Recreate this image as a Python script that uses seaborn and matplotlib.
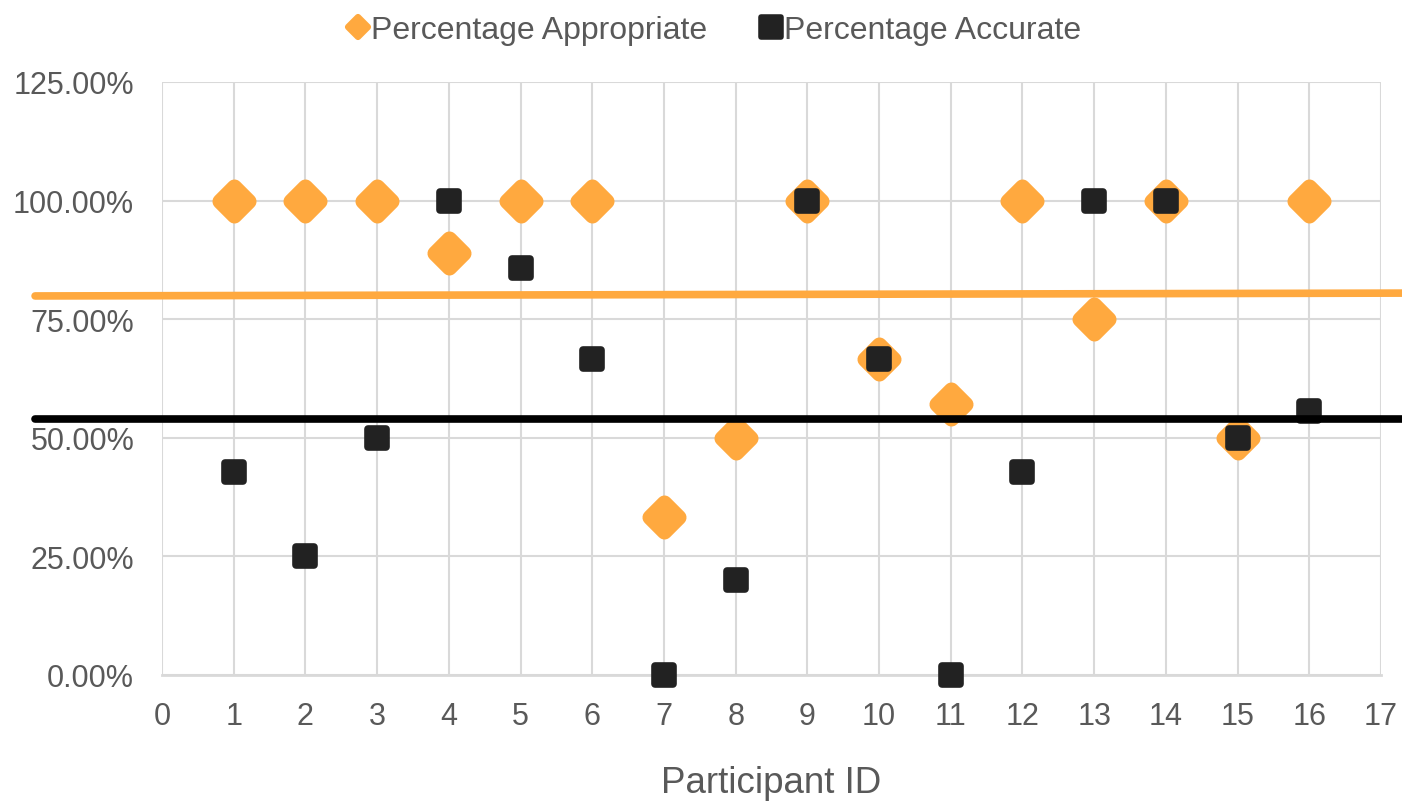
import pandas as pd
import matplotlib.pyplot as plt
import seaborn as sns
from matplotlib.lines import Line2D
from matplotlib.markers import MarkerStyle
from matplotlib.ticker import FuncFormatter

# Data
participant_ids = list(range(1, 17))
pct_appropriate = [100, 100, 100, 88.89, 100, 100, 33.33, 50, 100, 66.67, 57.14, 100, 75, 100, 50, 100]
pct_accurate = [42.86, 25, 50, 100, 85.71, 66.67, 0, 20, 100, 66.67, 0, 42.86, 100, 100, 50, 55.56]

# Trend lines (start / end values), spanning past the plot area
trend_x = [-1.77, 17.3]
trend_appropriate = [79.9, 80.5]
trend_accurate = [54.0, 54.0]

orange = '#FFA93F'
black = '#222222'
grey_text = '#595959'

df = pd.DataFrame({
    'Participant ID': participant_ids * 2,
    'Value': pct_appropriate + pct_accurate,
    'Series': ['Percentage Appropriate'] * 16 + ['Percentage Accurate'] * 16,
})

sns.set_style('white')
plt.rcParams['font.family'] = ['Liberation Sans', 'DejaVu Sans']

fig = plt.figure(figsize=(14.02, 8.04), dpi=100)
ax = fig.add_axes([162 / 1402, 1 - 676 / 804, (1381 - 162) / 1402, (676 - 83) / 804])

diamond = MarkerStyle('D', joinstyle='round')
square = MarkerStyle('s', joinstyle='round')

# Appropriate: rounded diamonds
app = df[df['Series'] == 'Percentage Appropriate']
sns.scatterplot(data=app, x='Participant ID', y='Value', marker=diamond, s=215,
                color=orange, edgecolor=orange, linewidth=11, ax=ax, zorder=3,
                legend=False, clip_on=False)
# Accurate: rounded squares
acc = df[df['Series'] == 'Percentage Accurate']
sns.scatterplot(data=acc, x='Participant ID', y='Value', marker=square, s=169,
                color=black, edgecolor=black, linewidth=5.5, ax=ax, zorder=4,
                legend=False, clip_on=False)
for coll in ax.collections:
    coll.set_joinstyle('round')

# Trend lines
ax.plot(trend_x, trend_appropriate, color=orange, lw=5.5, zorder=5, clip_on=False)
ax.plot(trend_x, trend_accurate, color='black', lw=5.5, zorder=5, clip_on=False)

ax.set_xlim(0, 17)
ax.set_ylim(0, 125)
ax.set_xticks(range(0, 18))
ax.set_yticks([0, 25, 50, 75, 100, 125])
ax.yaxis.set_major_formatter(FuncFormatter(lambda v, p: f'{v:.2f}%'))
ax.grid(True, color='#D9D9D9', lw=1.5, zorder=0)
ax.set_axisbelow(True)
for side in ['top', 'right', 'left']:
    ax.spines[side].set_visible(False)
ax.spines['bottom'].set_color('#D9D9D9')
ax.spines['bottom'].set_linewidth(2)
ax.tick_params(axis='y', length=0, labelsize=22, labelcolor=grey_text, pad=20)
ax.tick_params(axis='x', length=0, labelsize=22, labelcolor=grey_text, pad=19)
ax.set_xlabel('Participant ID', fontsize=26.5, color=grey_text, labelpad=24)
ax.set_ylabel('')

handles = [
    Line2D([], [], marker=MarkerStyle('D', joinstyle='round'), ls='', ms=10,
           color=orange, mec=orange, mew=4.5),
    Line2D([], [], marker=MarkerStyle('s', joinstyle='round'), ls='', ms=14,
           color=black, mec=black, mew=4),
]
fig.legend(handles, ['Percentage Appropriate', 'Percentage Accurate'],
           loc='center', bbox_to_anchor=(0.5086, 1 - 31 / 804), ncol=2, frameon=False,
           fontsize=23, labelcolor=grey_text, handletextpad=0.0,
           columnspacing=1.6, handlelength=0.8)

plt.savefig('out.png', dpi=100)
